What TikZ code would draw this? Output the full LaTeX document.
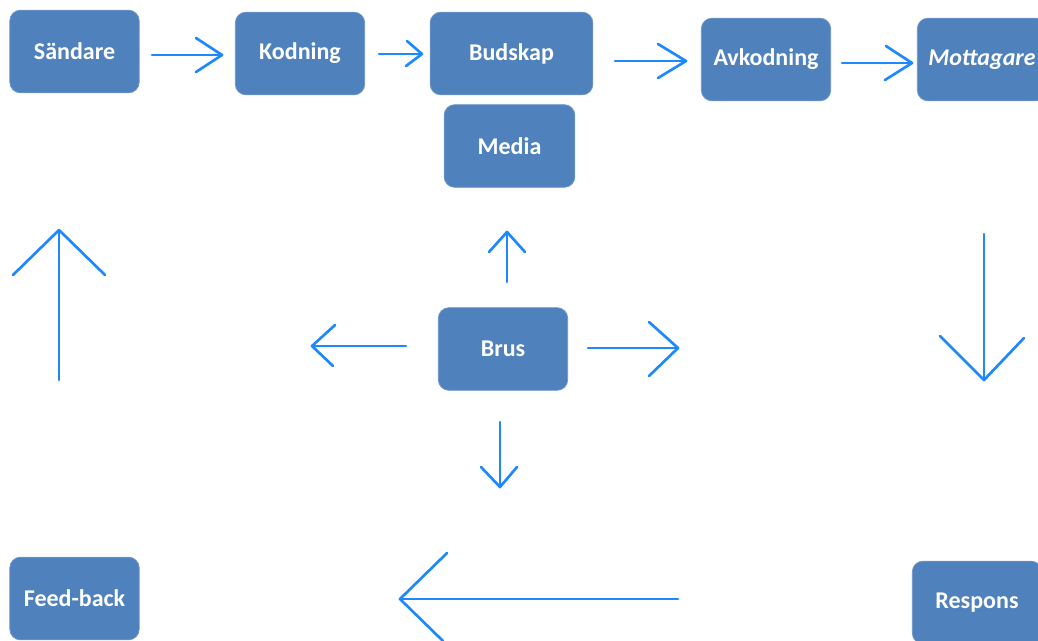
\documentclass[tikz,border=0pt]{standalone}
\usepackage{fontspec}
\setmainfont{Carlito}
\definecolor{boxblue}{RGB}{79,129,189}
\definecolor{boxedge}{RGB}{110,150,200}
\definecolor{arrowblue}{RGB}{30,136,255}
\begin{document}
\begin{tikzpicture}[x=0.75pt,y=-0.75pt,
  box/.style={rectangle,rounded corners=8pt,fill=boxblue,draw=boxedge,line width=0.6pt,
    minimum width=97pt,minimum height=62pt,inner sep=0pt,text=white,font=\fontsize{18}{21}\selectfont\bfseries},
  arr/.style={draw=arrowblue,line width=2pt,line cap=round,line join=round}]
\useasboundingbox (0,0) rectangle (1038,640);
% nodes
\node[box] (sandare) at (74.5,51.5) {Sändare};
\node[box] (kodning) at (300,53.5) {Kodning};
\node[box,minimum width=122pt] (budskap) at (511.5,53.5) {Budskap};
\node[box,minimum width=98pt] (media) at (509.5,146) {Media};
\node[box] (avkodning) at (766,59.5) {Avkodning};
\node[box,font=\fontsize{18}{21}\selectfont\bfseries\itshape] (mottagare) at (982,59.5) {Mottagare};
\node[box] (brus) at (503,349) {Brus};
\node[box] (feedback) at (74.5,598.5) {Feed-back};
\node[box] (respons) at (977,602.5) {Respons};
% arrow coordinates
\coordinate (a1s) at (152,55); \coordinate (a1t) at (222,55); \coordinate (a1u) at (196,38); \coordinate (a1d) at (196,72);
\coordinate (a2s) at (379,54); \coordinate (a2t) at (422,54); \coordinate (a2u) at (407,41); \coordinate (a2d) at (406,66);
\coordinate (a3s) at (615,61); \coordinate (a3t) at (686,61); \coordinate (a3u) at (658,44); \coordinate (a3d) at (658,78);
\coordinate (a4s) at (842,63); \coordinate (a4t) at (912,63); \coordinate (a4u) at (886,46); \coordinate (a4d) at (885,80);
% Brus arrows
\coordinate (buS) at (507,282); \coordinate (buT) at (507,232); \coordinate (buL) at (489,252); \coordinate (buR) at (525,252);
\coordinate (brS) at (588,348); \coordinate (brT) at (678,348); \coordinate (brU) at (649,322); \coordinate (brD) at (649,376);
\coordinate (bdS) at (500,422); \coordinate (bdT) at (500,487); \coordinate (bdL) at (481,467); \coordinate (bdR) at (517,467);
\coordinate (blS) at (406,346); \coordinate (blT) at (312,346); \coordinate (blU) at (335,325); \coordinate (blD) at (333,366);
% loop arrows
\coordinate (luS) at (59,380); \coordinate (luT) at (59,230); \coordinate (luL) at (13,275); \coordinate (luR) at (105,275);
\coordinate (rdS) at (984,234); \coordinate (rdT) at (984,380); \coordinate (rdL) at (940,336); \coordinate (rdR) at (1024,338);
\coordinate (bbS) at (678,599); \coordinate (bbT) at (400,599); \coordinate (bbU) at (447,553); \coordinate (bbD) at (443,641);
% draw arrows
\foreach \p in {a1,a2,a3,a4}{
  \draw[arr] (\p s) -- (\p t);
  \draw[arr] (\p u) -- (\p t) -- (\p d);
}
\draw[arr] (buS) -- (buT); \draw[arr] (buL) -- (buT) -- (buR);
\draw[arr] (brS) -- (brT); \draw[arr] (brU) -- (brT) -- (brD);
\draw[arr] (bdS) -- (bdT); \draw[arr] (bdL) -- (bdT) -- (bdR);
\draw[arr] (blS) -- (blT); \draw[arr] (blU) -- (blT) -- (blD);
\draw[arr] (luS) -- (luT); \draw[arr] (luL) -- (luT) -- (luR);
\draw[arr] (rdS) -- (rdT); \draw[arr] (rdL) -- (rdT) -- (rdR);
\draw[arr] (bbS) -- (bbT); \draw[arr] (bbU) -- (bbT) -- (bbD);
\end{tikzpicture}
\end{document}
